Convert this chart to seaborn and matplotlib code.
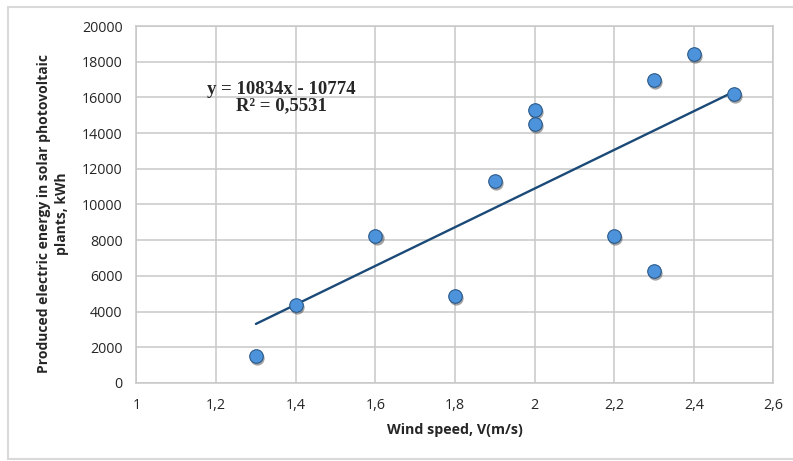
import numpy as np
import pandas as pd
import matplotlib
matplotlib.use('Agg')
import matplotlib.pyplot as plt
from matplotlib.ticker import FuncFormatter, MultipleLocator
from matplotlib.patches import Rectangle
import seaborn as sns

# data
wind_speed = [1.3, 1.4, 1.6, 1.8, 1.9, 2.0, 2.0, 2.2, 2.3, 2.3, 2.4, 2.5]
energy_kwh = [1500, 4380, 8250, 4900, 11300, 15300, 14500, 8250, 6300, 17000, 18450, 16200]

# trendline as given on the chart
slope = 10834
intercept = -10774

df = pd.DataFrame({'wind': wind_speed, 'energy': energy_kwh})
trend = pd.DataFrame({'wind': [min(wind_speed), max(wind_speed)]})
trend['energy'] = slope * trend['wind'] + intercept

sns.set_style('white')
plt.rcParams['font.family'] = ['Open Sans', 'DejaVu Sans']

fig = plt.figure(figsize=(7.93, 4.61), dpi=100)
fig.patches.append(Rectangle((8 / 793, 2 / 461), 1.0, 452 / 461, transform=fig.transFigure,
                             facecolor='white', edgecolor='#d9d9d9', linewidth=1.5, zorder=-10))
ax = fig.add_axes([0.1721, 0.1692, 0.8033, 0.7744])
ax.set_facecolor('none')

sns.lineplot(data=trend, x='wind', y='energy', ax=ax, color='#1b4a78', linewidth=1.7, zorder=3)
# soft shadow under the markers
ax.scatter(np.array(wind_speed) + 0.003, np.array(energy_kwh) - 120, s=105, color='#333333',
           alpha=0.45, linewidth=0, zorder=3.5)
sns.scatterplot(data=df, x='wind', y='energy', ax=ax, s=95, color='#4d93dc',
                edgecolor='#2a5a8a', linewidth=0.8, zorder=4)

ax.set_xlim(1, 2.6)
ax.set_ylim(0, 20000)
ax.xaxis.set_major_locator(MultipleLocator(0.2))
ax.yaxis.set_major_locator(MultipleLocator(2000))
ax.xaxis.set_major_formatter(FuncFormatter(lambda v, p: ('%g' % round(v, 1)).replace('.', ',')))
ax.yaxis.set_major_formatter(FuncFormatter(lambda v, p: '%d' % v))
ax.grid(True, color='#c8c8c8', linewidth=1.1)
for s in ax.spines.values():
    s.set_color('#c8c8c8')
    s.set_linewidth(1.1)
ax.tick_params(length=0, labelsize=10.3, colors='#262626')
ax.tick_params(axis='x', pad=11)
ax.tick_params(axis='y', pad=10)

ax.set_xlabel('Wind speed, V(m/s)', fontsize=10.3, fontweight='bold', labelpad=7)
ax.set_ylabel('Produced electric energy in solar photovoltaic\nplants, kWh', fontsize=10,
              fontweight='bold', labelpad=9, linespacing=1.35)
ax.yaxis.label.set_y(0.475)

ax.text(0.228, 0.80, 'y = 10834x - 10774\nR² = 0,5531', transform=ax.transAxes,
        ha='center', va='center', fontsize=13.5, fontweight='bold', family='Liberation Serif',
        linespacing=0.95)

fig.savefig('out.png', dpi=100)
